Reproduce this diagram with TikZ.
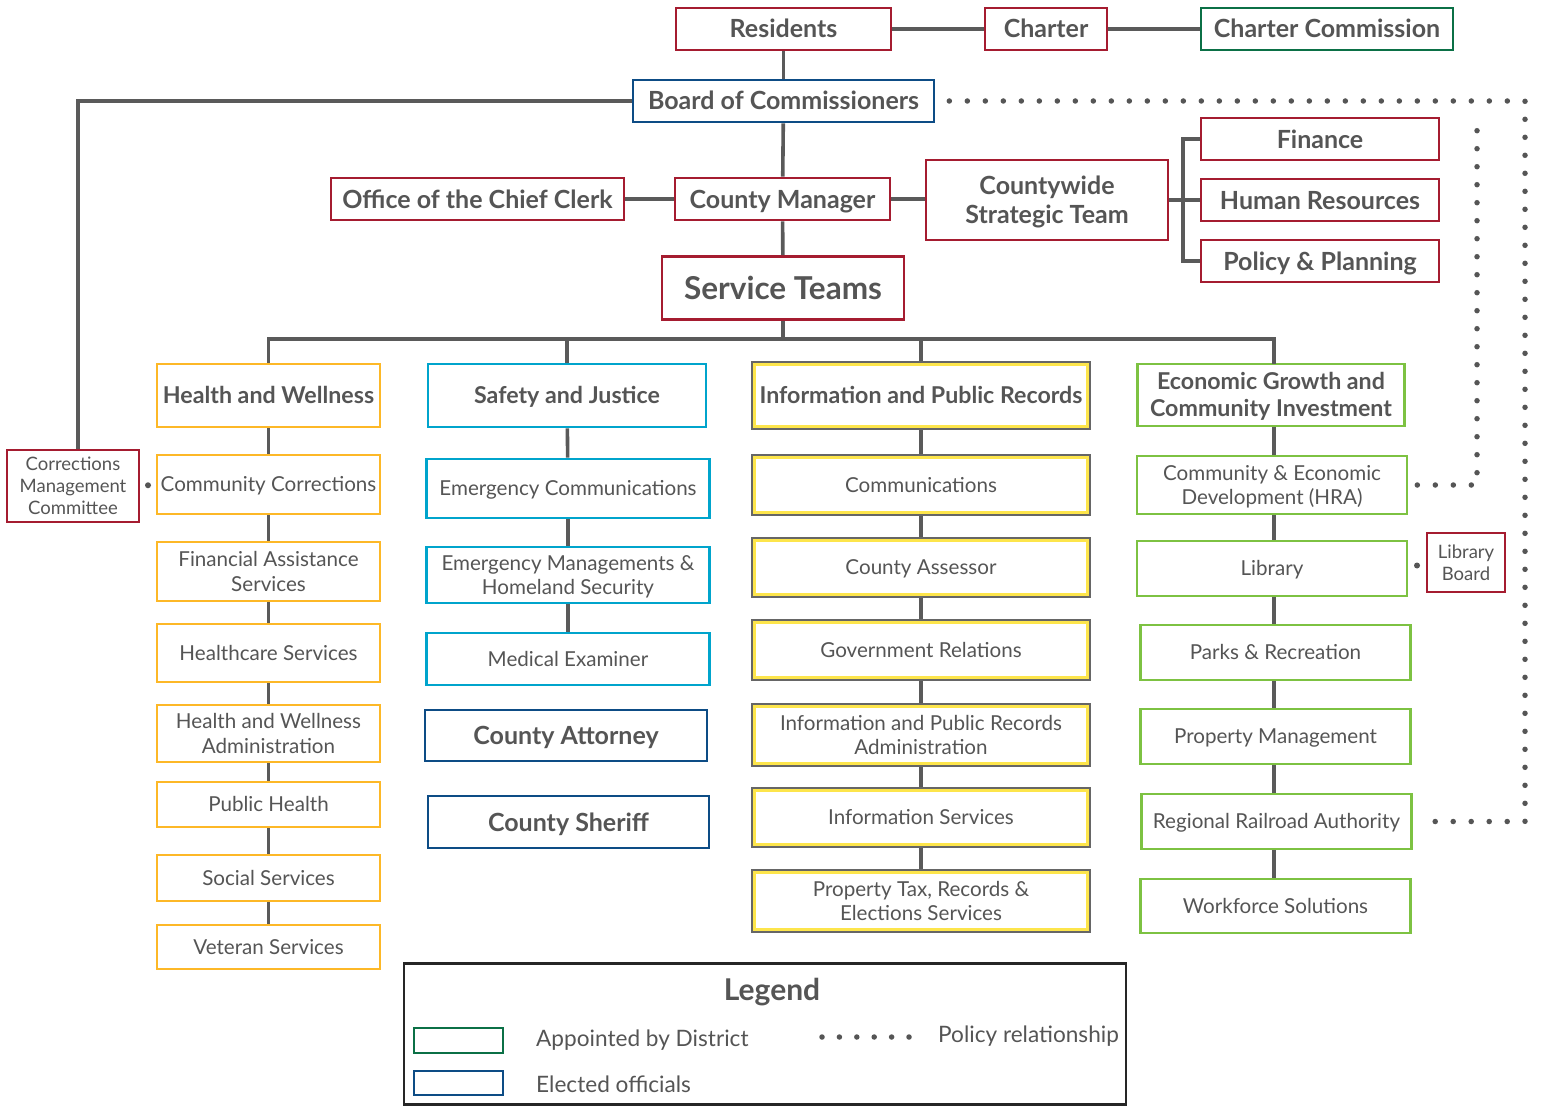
\documentclass[tikz,border=0pt]{standalone}
\usepackage{fontspec}
\setmainfont{Lato}
\usetikzlibrary{calc}
\definecolor{txt}{HTML}{555555}
\definecolor{lin}{HTML}{5A5A5A}
\definecolor{cred}{HTML}{A51C30}
\definecolor{cnavy}{HTML}{0D4C85}
\definecolor{cgreen}{HTML}{0B7046}
\definecolor{corange}{HTML}{FDB827}
\definecolor{ccyan}{HTML}{00A4CC}
\definecolor{clime}{HTML}{7DC242}
\definecolor{cyel}{HTML}{FDE54B}
\definecolor{cgray}{HTML}{666666}
\newcommand{\mystrut}{\rule[-0.22em]{0pt}{1.16em}}
\tikzset{
  bx/.style={draw, line width=2.6pt, fill=white, inner sep=0pt, align=center, text=txt,
    font=\fontsize{20.6}{24.5}\selectfont,
    execute at begin node=\mystrut, execute at end node=\mystrut},
  hd/.style={font=\bfseries\fontsize{25}{29}\selectfont},
  ch/.style={font=\bfseries\fontsize{23.2}{27}\selectfont},
  sm/.style={font=\fontsize{18.5}{22}\selectfont},
  wh/.style 2 args={minimum width=#1pt, minimum height=#2pt},
  rb/.style={bx, draw=cred},
  nb/.style={bx, draw=cnavy},
  gb/.style={bx, draw=cgreen},
  ob/.style={bx, draw=corange},
  cb/.style={bx, draw=ccyan},
  lb/.style={bx, draw=clime},
  ib/.style={bx, draw=cgray, line width=2pt,
    path picture={\draw[cyel, line width=3pt]
      ([xshift=2.5pt,yshift=-2.5pt]path picture bounding box.north west) rectangle
      ([xshift=-2.5pt,yshift=2.5pt]path picture bounding box.south east);}},
  conn/.style={draw=lin, line width=3.6pt},
  dotline/.style={draw=txt, line width=5.5pt, line cap=round, dash pattern=on 0pt off 18pt},
  ltxt/.style={anchor=west, text=txt, inner sep=0pt, font=\fontsize{22.6}{27}\selectfont},
}
\begin{document}
\begin{tikzpicture}[x=1pt, y=-1pt]
\useasboundingbox[fill=white] (0,0) rectangle (1546,1105);

% top
\node[rb, hd, wh={215}{42}] (res) at (783.5,29) {Residents};
\node[rb, hd, wh={122}{42}] (charter) at (1046,29) {Charter};
\node[gb, hd, wh={252}{42}] (ccom) at (1327,29) {Charter Commission};
\node[nb, hd, wh={301}{42}] (board) at (783.5,101) {Board of Commissioners};
\node[rb, sm, wh={132}{72}] (cmc) at (73,486) {\mystrut Corrections\\Management\\Committee};
\node[rb, hd, wh={293}{42}] (occ) at (477.5,199) {Office of the Chief Clerk};
\node[rb, hd, wh={215}{42}] (cm) at (782.5,199) {County Manager};
\node[rb, hd, wh={242}{80}] (cst) at (1047,200) {\mystrut Countywide\\Strategic Team};
\node[rb, hd, wh={238}{42}] (fin) at (1320,139) {Finance};
\node[rb, hd, wh={238}{42}] (hr) at (1320,200) {Human Resources};
\node[rb, hd, wh={238}{42}] (pp) at (1320,261) {Policy \& Planning};
\node[rb, font=\bfseries\fontsize{31.5}{36}\selectfont, wh={242}{63}] (st) at (783,288) {Service Teams};

% column 1
\node[ob, ch, wh={223}{63}] (hw) at (268.5,395.5) {Health and Wellness};
\node[ob, wh={223}{59}] (h1) at (268.5,484.5) {Community Corrections};
\node[ob, wh={223}{59}] (h2) at (268.5,571.5) {\mystrut Financial Assistance\\Services};
\node[ob, wh={223}{58}] (h3) at (268.5,653) {Healthcare Services};
\node[ob, wh={223}{57}] (h4) at (268.5,733.5) {\mystrut Health and Wellness\\Administration};
\node[ob, wh={223}{45}] (h5) at (268.5,804.5) {Public Health};
\node[ob, wh={223}{46}] (h6) at (268.5,878) {Social Services};
\node[ob, wh={223}{44}] (h7) at (268.5,947) {Veteran Services};

% column 2
\node[cb, ch, wh={278}{63}] (sj) at (567,395.5) {Safety and Justice};
\node[cb, wh={283}{59}] (s1) at (568,488.5) {Emergency Communications};
\node[cb, wh={283}{56}] (s2) at (568,575) {\mystrut Emergency Managements \&\\Homeland Security};
\node[cb, wh={283}{52}] (s3) at (568,659) {Medical Examiner};
\node[nb, hd, wh={282}{51}] (ca) at (566,735.5) {County Attorney};
\node[nb, hd, wh={281}{52}] (sh) at (568.5,822) {County Sheriff};

% column 3
\node[ib, ch, wh={338}{67}] (ip) at (921,395.5) {Information and Public Records};
\node[ib, wh={338}{60}] (i1) at (921,485) {Communications};
\node[ib, wh={338}{59}] (i2) at (921,567.5) {County Assessor};
\node[ib, wh={338}{60}] (i3) at (921,650) {Government Relations};
\node[ib, wh={338}{62}] (i4) at (921,735) {\mystrut Information and Public Records\\Administration};
\node[ib, wh={338}{59}] (i5) at (921,817.5) {Information Services};
\node[ib, wh={338}{62}] (i6) at (921,901) {\mystrut Property Tax, Records \&\\Elections Services};

% column 4
\node[lb, ch, wh={267}{62}] (eg) at (1271,395) {\mystrut Economic Growth and\\Community Investment};
\node[lb, wh={270}{58}] (e1) at (1272,485) {\mystrut Community \& Economic\\Development (HRA)};
\node[lb, wh={270}{55}] (e2) at (1272,568.5) {Library};
\node[lb, wh={270}{55}] (e3) at (1275.5,652.5) {Parks \& Recreation};
\node[lb, wh={270}{55}] (e4) at (1275.5,736.5) {Property Management};
\node[lb, wh={270}{55}] (e5) at (1276.5,821.5) {Regional Railroad Authority};
\node[lb, wh={270}{54}] (e6) at (1275.5,906) {Workforce Solutions};
\node[rb, sm, wh={78}{59}] (lbd) at (1466,562.5) {\mystrut Library\\Board};

% connectors top
\draw[conn] (res) -- (charter);
\draw[conn] (charter) -- (ccom);
\draw[conn] (res) -- (board);
\draw[conn] (board) -- (cm);
\draw[conn] (cm) -- (st);
\draw[conn] (occ.east) -- (occ.east -| cm.west);
\draw[conn] (cm.east) -- (cm.east -| cst.west);
\coordinate (br) at (1183,200);
\draw[conn] (cst.east |- br) -- (hr.west);
\draw[conn] (fin.west) -| (br) |- (pp.west);
\coordinate (cmcx) at (78,0);
\draw[conn] (board.west) -| (cmc.north -| cmcx);
\coordinate (bus) at (783,339);
\coordinate (colx) at (1274,364);
\draw[conn] (st) -- (bus);
\draw[conn] (hw.north) |- (bus) -| (colx);
\draw[conn] (sj.north) -- (sj.north |- bus);
\draw[conn] (ip.north) -- (ip.north |- bus);

% columns
\foreach \a/\b in {hw/h1,h1/h2,h2/h3,h3/h4,h4/h5,h5/h6,h6/h7,
  sj/s1,s1/s2,s2/s3,
  ip/i1,i1/i2,i2/i3,i3/i4,i4/i5,i5/i6}
  \draw[conn] (\a) -- (\b);
\foreach \a/\b in {eg/e1,e1/e2,e2/e3,e3/e4,e4/e5,e5/e6}
  \draw[conn] (\a.south -| colx) -- (\b.north -| colx);

% policy dots
\coordinate (dA) at (1525,101);
\coordinate (dB) at (1477,101);
\draw[dotline] ([xshift=14pt]board.east) -- (dA) |- ([xshift=10pt]e5.east);
\draw[dotline] ([xshift=9pt]e1.east) -| ([yshift=-14pt]dB);
\coordinate (dc) at ($(cmc.east)!0.5!(h1.west)$);
\coordinate (dl) at ($(e2.east)!0.5!(lbd.west)$);
\fill[txt] (dc) circle (3pt);
\fill[txt] (dl) circle (3pt);

% legend
\node[draw=black!85, line width=2.4pt, inner sep=0pt, minimum width=722pt, minimum height=141pt] (leg) at (765,1034) {};
\node[text=txt, font=\bfseries\fontsize{30}{34}\selectfont] (legt) at (772,992) {Legend};
\node[draw=cgreen, line width=2.6pt, minimum width=89pt, minimum height=25pt, inner sep=0pt] (lg1) at (458.5,1040.5) {};
\node[draw=cnavy, line width=2.6pt, minimum width=89pt, minimum height=24pt, inner sep=0pt] (lg2) at (458.5,1083) {};
\node[ltxt] (lt1) at (536,1040) {Appointed by District};
\node[ltxt] (lt2) at (536,1084) {Elected officials};
\coordinate (ld1) at (822,1037);
\coordinate (ld2) at (909,1037);
\draw[dotline, dash pattern=on 0pt off 17.4pt] (ld1) -- (ld2);
\node[ltxt] (lt3) at (938,1036) {Policy relationship};
\end{tikzpicture}
\end{document}
